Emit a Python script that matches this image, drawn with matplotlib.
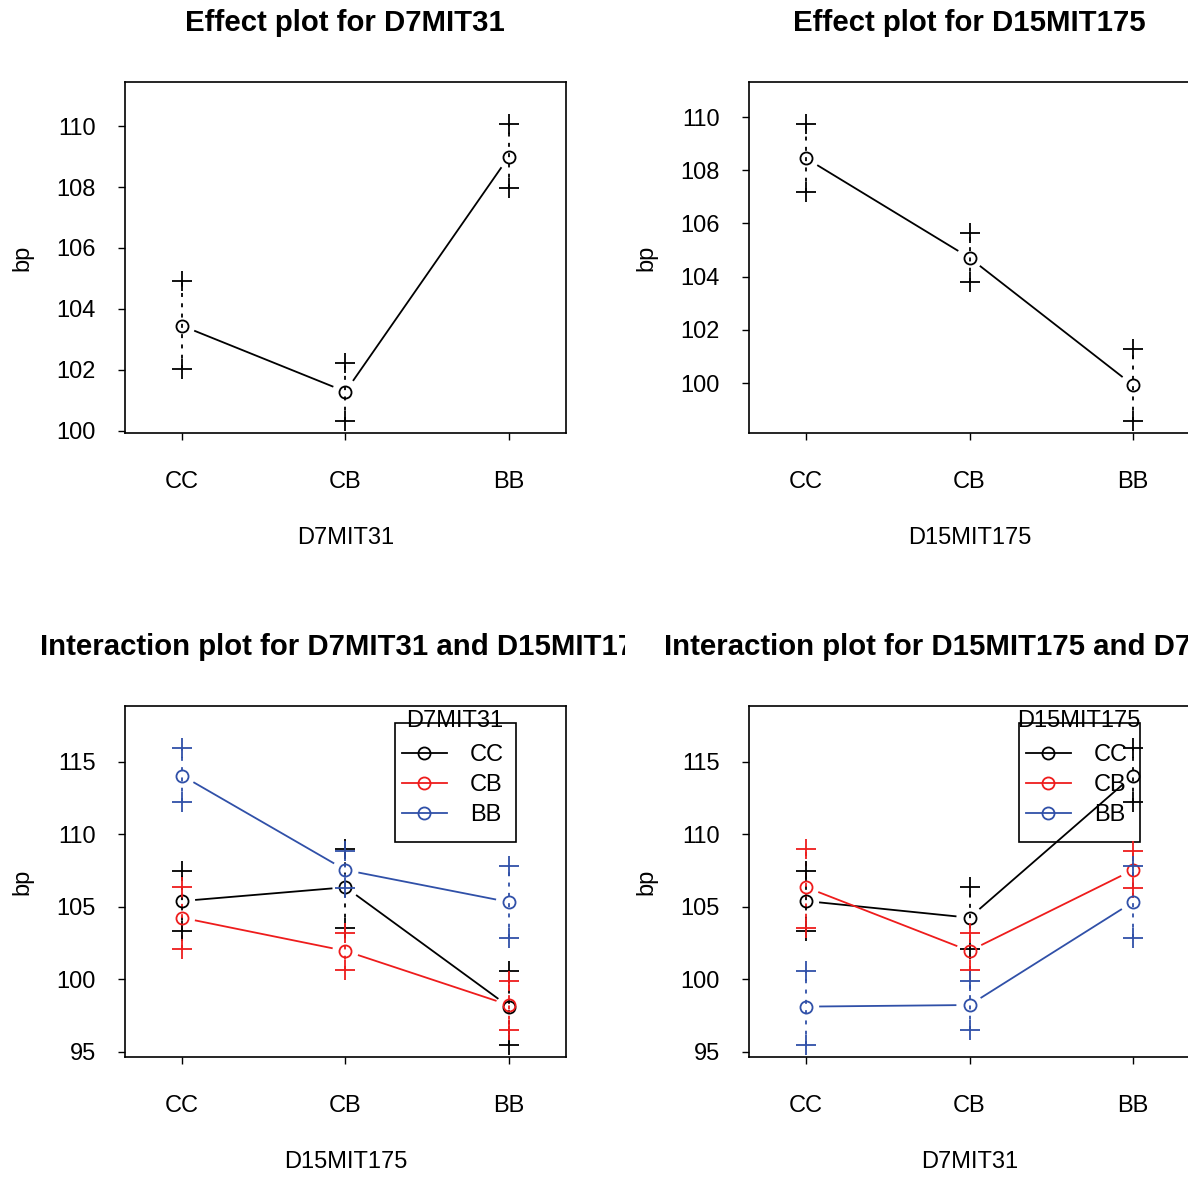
import numpy as np
import matplotlib
matplotlib.use('Agg')
import matplotlib.pyplot as plt
from matplotlib.lines import Line2D
from matplotlib.patches import Rectangle
from matplotlib.transforms import Bbox

plt.rcParams['font.family'] = ['Liberation Sans', 'DejaVu Sans']

# genotype levels
levels = ['CC', 'CB', 'BB']

# main effects (mean, lower, upper)
d7_mean = [103.45, 101.29, 109.00]
d7_lo = [102.02, 100.34, 107.96]
d7_hi = [104.92, 102.24, 110.06]

d15_mean = [108.45, 104.71, 99.92]
d15_lo = [107.19, 103.79, 98.58]
d15_hi = [109.73, 105.63, 101.27]

# interaction: one row per D7MIT31 genotype, columns = D15MIT175 genotype
int_mean = [[105.41, 106.36, 98.13],
            [104.26, 101.97, 98.24],
            [114.06, 107.55, 105.34]]
int_lo = [[103.37, 103.57, 95.46],
          [102.08, 100.66, 96.52],
          [112.22, 106.29, 102.88]]
int_hi = [[107.48, 109.00, 100.61],
          [106.36, 103.19, 99.92],
          [115.94, 108.88, 107.85]]

colors = ['black', '#EE1C1C', '#3050A8']

W, H = 1188, 1178
fig = plt.figure(figsize=(W / 100, H / 100), dpi=100)


def make_ax(x0, y0, x1, y1):
    return fig.add_axes([x0 / W, 1 - y1 / H, (x1 - x0) / W, (y1 - y0) / H])


def style_ax(ax, ylim, yticks, xlabel):
    ax.set_xlim(0.651, 3.349)
    ax.set_ylim(*ylim)
    ax.set_xticks([1, 2, 3])
    ax.set_xticklabels(levels)
    ax.set_yticks(yticks)
    ax.tick_params(direction='out', length=5, width=1, labelsize=17)
    ax.tick_params(axis='x', pad=22)
    ax.tick_params(axis='y', pad=16)
    for s in ax.spines.values():
        s.set_linewidth(1.2)
    ax.set_xlabel(xlabel, fontsize=17, va='center')
    ax.xaxis.set_label_coords(0.5, -0.30)
    ax.set_ylabel('bp', fontsize=17, va='center')
    ax.yaxis.set_label_coords(-0.233, 0.5)


def gapped_line(ax, x, y, color, gap=14):
    pts = ax.transData.transform(np.column_stack([x, y]))
    inv = ax.transData.inverted()
    for i in range(len(pts) - 1):
        p0, p1 = pts[i], pts[i + 1]
        d = p1 - p0
        u = d / np.hypot(*d)
        seg = inv.transform([p0 + u * gap, p1 - u * gap])
        ax.plot(seg[:, 0], seg[:, 1], color=color, lw=1.3, zorder=3)


def effect(ax, mean, lo, hi, color):
    x = np.arange(1, len(mean) + 1)
    gapped_line(ax, x, mean, color)
    for xi, m, l, h in zip(x, mean, lo, hi):
        ax.plot([xi, xi], [l, h], color=color, lw=1.3, ls=(0, (2.2, 3.5)), zorder=3)
    ax.plot(x, mean, 'o', mfc='none', mec=color, ms=8.7, mew=1.3, zorder=4)
    ax.plot(x, lo, '+', color=color, ms=14, mew=1.3, zorder=4)
    ax.plot(x, hi, '+', color=color, ms=14, mew=1.3, zorder=4)


def legend(ax, title):
    # frame drawn separately so the title can sit on its top edge
    ax.add_patch(Rectangle((0.612, 0.6125), 0.274, 0.3391, transform=ax.transAxes,
                           fill=False, edgecolor='black', lw=1.2, zorder=2))
    handles = [Line2D([], [], color=c, lw=1.3, marker='o', mfc='none', mec=c,
                      ms=8.7, mew=1.3) for c in colors]
    ax.legend(handles, levels, loc='upper left', bbox_to_anchor=(0.628, 0.891),
              fontsize=17, frameon=False, borderpad=0, borderaxespad=0,
              labelspacing=0.33, handlelength=1.9, handletextpad=0.97)
    ax.text(0.748, 0.956, title, transform=ax.transAxes, ha='center',
            va='center', fontsize=17)


def title(x, y, s, clip=None):
    t = fig.text(x / W, 1 - y / H, s, ha='center', va='center',
                 fontsize=21.2, fontweight='bold')
    if clip is not None:
        t.set_clip_box(Bbox.from_extents(clip[0], 0, clip[1], H))
        t.set_clip_on(True)


# top left: effect of D7MIT31
ax1 = make_ax(125, 82, 566, 433)
style_ax(ax1, (99.934, 111.443), [100, 102, 104, 106, 108, 110], 'D7MIT31')
effect(ax1, d7_mean, d7_lo, d7_hi, 'black')
title(345, 23, 'Effect plot for D7MIT31')

# top right: effect of D15MIT175
ax2 = make_ax(749, 82, 1190, 433)
style_ax(ax2, (98.12, 111.32), [100, 102, 104, 106, 108, 110], 'D15MIT175')
effect(ax2, d15_mean, d15_lo, d15_hi, 'black')
title(969, 23, 'Effect plot for D15MIT175')

# bottom left: D15MIT175 on x, one line per D7MIT31 genotype
ax3 = make_ax(125, 706, 566, 1057)
style_ax(ax3, (94.655, 118.86), [95, 100, 105, 110, 115], 'D15MIT175')
for i, c in enumerate(colors):
    effect(ax3, int_mean[i], int_lo[i], int_hi[i], c)
legend(ax3, 'D7MIT31')
title(345, 647, 'Interaction plot for D7MIT31 and D15MIT175', clip=(0, 625))

# bottom right: D7MIT31 on x, one line per D15MIT175 genotype
ax4 = make_ax(749, 706, 1190, 1057)
style_ax(ax4, (94.655, 118.86), [95, 100, 105, 110, 115], 'D7MIT31')
t_mean = np.array(int_mean).T
t_lo = np.array(int_lo).T
t_hi = np.array(int_hi).T
for i, c in enumerate(colors):
    effect(ax4, t_mean[i], t_lo[i], t_hi[i], c)
legend(ax4, 'D15MIT175')
title(969, 647, 'Interaction plot for D15MIT175 and D7MIT31')

fig.savefig('out.png', dpi=100)
